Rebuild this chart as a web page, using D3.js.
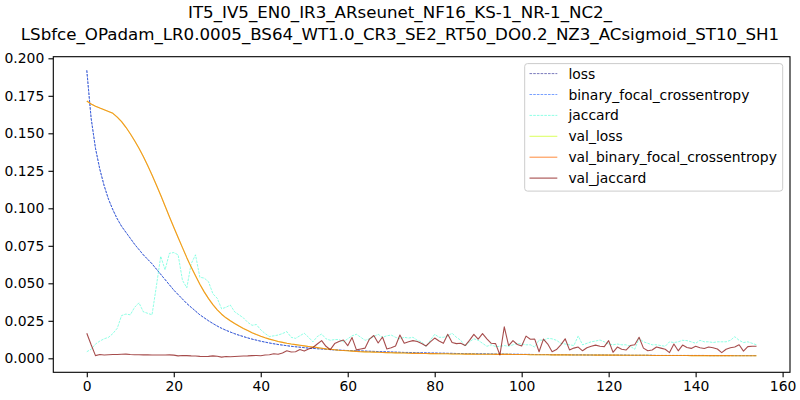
<!DOCTYPE html>
<html><head><meta charset="utf-8">
<script src="https://cdn.jsdelivr.net/npm/d3@7"></script>
<style>body{margin:0;background:#fff}svg{display:block}text{font-family:"DejaVu Sans",sans-serif}</style>
</head><body>
<svg id="c" width="800" height="400"></svg>
<script>
const titleLines = ["IT5_IV5_EN0_IR3_ARseunet_NF16_KS-1_NR-1_NC2_",
  "LSbfce_OPadam_LR0.0005_BS64_WT1.0_CR3_SE2_RT50_DO0.2_NZ3_ACsigmoid_ST10_SH1"];
const seriesNames = ["loss","binary_focal_crossentropy","jaccard","val_loss","val_binary_focal_crossentropy","val_jaccard"];
const xTicks = [0,20,40,60,80,100,120,140,160];
const yTicks = [0,0.025,0.05,0.075,0.1,0.125,0.15,0.175,0.2];

const loss = [0.192,0.160,0.140,0.126,0.115,0.106,0.099,0.093,0.088,0.084,
0.080,0.076,0.0725,0.069,0.066,0.063,0.0595,0.056,0.0525,0.049,
0.0455,0.0425,0.0395,0.0365,0.034,0.0315,0.029,0.027,0.025,0.0232,
0.0215,0.020,0.0187,0.0175,0.0164,0.0154,0.0145,0.0136,0.0128,0.0121,
0.0114,0.0108,0.0102,0.0097,0.0092,0.0088,0.0084,0.0080,0.0077,0.0074,
0.0071,0.0068,0.0066,0.0064,0.0062,0.0060,0.0058,0.0056,0.0055,0.0053,
0.0052,0.0051,0.0050,0.0049,0.0048,0.0047,0.0046,0.0045,0.0044,0.0043,
0.0042,0.0041,0.0040,0.0039,0.0039,0.0038,0.0037,0.0037,0.0036,0.0035,
0.0035,0.0034,0.0034,0.0033,0.0033,0.0032,0.0032,0.0031,0.0031,0.0030,
0.0030,0.0030,0.0029,0.0029,0.0028,0.0028,0.0028,0.0027,0.0027,0.0027,
0.0026,0.0026,0.0026,0.0025,0.0025,0.0025,0.0025,0.0024,0.0024,0.0024,
0.0024,0.0023,0.0023,0.0023,0.0023,0.0022,0.0022,0.0022,0.0022,0.0022,
0.0021,0.0021,0.0021,0.0021,0.0021,0.0020,0.0020,0.0020,0.0020,0.0020,
0.0020,0.0019,0.0019,0.0019,0.0019,0.0019,0.0019,0.0019,0.0019,0.0019,
0.0019,0.0019,0.0019,0.0018,0.0018,0.0018,0.0018,0.0018,0.0018,0.0018,
0.0018,0.0018,0.0018,0.0018,0.0018];

const bfce = [0.192,0.160,0.140,0.126,0.115,0.106,0.099,0.093,0.088,0.084,
0.080,0.076,0.0725,0.069,0.066,0.063,0.0595,0.056,0.0525,0.049,
0.0455,0.0425,0.0395,0.0365,0.034,0.0315,0.029,0.027,0.025,0.0232,
0.0215,0.020,0.0187,0.0175,0.0164,0.0154,0.0145,0.0136,0.0128,0.0121,
0.0114,0.0108,0.0102,0.0097,0.0092,0.0088,0.0084,0.0080,0.0077,0.0074,
0.0071,0.0068,0.0066,0.0064,0.0062,0.0060,0.0058,0.0056,0.0055,0.0053,
0.0052,0.0051,0.0050,0.0049,0.0048,0.0047,0.0046,0.0045,0.0044,0.0043,
0.0042,0.0041,0.0040,0.0039,0.0039,0.0038,0.0037,0.0037,0.0036,0.0035,
0.0035,0.0034,0.0034,0.0033,0.0033,0.0032,0.0032,0.0031,0.0031,0.0030,
0.0030,0.0030,0.0029,0.0029,0.0028,0.0028,0.0028,0.0027,0.0027,0.0027,
0.0026,0.0026,0.0026,0.0025,0.0025,0.0025,0.0025,0.0024,0.0024,0.0024,
0.0024,0.0023,0.0023,0.0023,0.0023,0.0022,0.0022,0.0022,0.0022,0.0022,
0.0021,0.0021,0.0021,0.0021,0.0021,0.0020,0.0020,0.0020,0.0020,0.0020,
0.0020,0.0019,0.0019,0.0019,0.0019,0.0019,0.0019,0.0019,0.0019,0.0019,
0.0019,0.0019,0.0019,0.0018,0.0018,0.0018,0.0018,0.0018,0.0018,0.0018,
0.0018,0.0018,0.0018,0.0018,0.0018];

const jaccard = [0.0044,0.0060,0.0095,0.0115,0.0130,0.0140,0.0165,0.0200,0.0285,0.0295,
0.0290,0.0340,0.0370,0.0310,0.0300,0.0290,0.0480,0.0680,0.0590,0.0700,
0.0705,0.0690,0.0520,0.0470,0.0630,0.0690,0.0540,0.0535,0.0510,0.0430,
0.0400,0.0330,0.0340,0.0355,0.0310,0.0290,0.0270,0.0240,0.0220,0.0225,
0.0190,0.0165,0.0145,0.0150,0.0155,0.0165,0.0178,0.0140,0.0133,0.0150,
0.0167,0.0140,0.0110,0.0145,0.0162,0.0130,0.0120,0.0125,0.0125,0.0110,
0.0130,0.0150,0.0160,0.0140,0.0120,0.0130,0.0145,0.0160,0.0140,0.0150,
0.0155,0.0140,0.0130,0.0140,0.0135,0.0140,0.0120,0.0110,0.0078,0.0120,
0.0160,0.0140,0.0140,0.0150,0.0167,0.0140,0.0120,0.0080,0.0110,0.0130,
0.0120,0.0100,0.0080,0.0090,0.0078,0.0080,0.0085,0.0080,0.0090,0.0100,
0.0095,0.0090,0.0090,0.0075,0.0122,0.0120,0.0133,0.0130,0.0120,0.0100,
0.0095,0.0090,0.0085,0.0149,0.0090,0.0100,0.0110,0.0115,0.0122,0.0110,
0.0095,0.0090,0.0095,0.0090,0.0090,0.0080,0.0060,0.0133,0.0110,0.0100,
0.0090,0.0090,0.0085,0.0080,0.0110,0.0105,0.0110,0.0120,0.0118,0.0110,
0.0100,0.0120,0.0110,0.0110,0.0105,0.0110,0.0110,0.0110,0.0120,0.0144,
0.0120,0.0105,0.0110,0.0100,0.0090];

const valLoss = [0.1715,0.1695,0.1680,0.1668,0.1657,0.1646,0.1633,0.1608,0.1578,0.1540,
0.1497,0.1450,0.1400,0.1345,0.1285,0.1222,0.1155,0.1087,0.1015,0.0944,
0.0874,0.0805,0.0738,0.0671,0.0608,0.0550,0.0494,0.0443,0.0398,0.0358,
0.0323,0.0294,0.0270,0.0250,0.0232,0.0215,0.0199,0.0185,0.0170,0.0158,
0.0147,0.0137,0.0128,0.0120,0.0112,0.0106,0.0100,0.0095,0.0091,0.0087,
0.0083,0.0079,0.0075,0.0071,0.0067,0.0063,0.0060,0.0057,0.0054,0.0052,
0.0050,0.0048,0.0046,0.0044,0.0043,0.0042,0.0041,0.0040,0.0039,0.0038,
0.0037,0.0036,0.0035,0.0035,0.0034,0.0033,0.0033,0.0032,0.0032,0.0031,
0.0031,0.0030,0.0030,0.0030,0.0029,0.0029,0.0029,0.0028,0.0028,0.0028,
0.0027,0.0027,0.0027,0.0027,0.0026,0.0026,0.0026,0.0026,0.0025,0.0025,
0.0025,0.0025,0.0024,0.0024,0.0024,0.0024,0.0024,0.0023,0.0023,0.0023,
0.0023,0.0023,0.0022,0.0022,0.0022,0.0022,0.0022,0.0021,0.0021,0.0021,
0.0021,0.0021,0.0021,0.0020,0.0020,0.0020,0.0020,0.0020,0.0020,0.0020,
0.0019,0.0019,0.0019,0.0019,0.0019,0.0019,0.0019,0.0019,0.0019,0.0018,
0.0018,0.0018,0.0018,0.0018,0.0018,0.0018,0.0018,0.0018,0.0018,0.0017,
0.0017,0.0017,0.0017,0.0017,0.0017];

const valBfce = [0.1715,0.1695,0.1680,0.1668,0.1657,0.1646,0.1633,0.1608,0.1578,0.1540,
0.1497,0.1450,0.1400,0.1345,0.1285,0.1222,0.1155,0.1087,0.1015,0.0944,
0.0874,0.0805,0.0738,0.0671,0.0608,0.0550,0.0494,0.0443,0.0398,0.0358,
0.0323,0.0294,0.0270,0.0250,0.0232,0.0215,0.0199,0.0185,0.0170,0.0158,
0.0147,0.0137,0.0128,0.0120,0.0112,0.0106,0.0100,0.0095,0.0091,0.0087,
0.0083,0.0079,0.0075,0.0071,0.0067,0.0063,0.0060,0.0057,0.0054,0.0052,
0.0050,0.0048,0.0046,0.0044,0.0043,0.0042,0.0041,0.0040,0.0039,0.0038,
0.0037,0.0036,0.0035,0.0035,0.0034,0.0033,0.0033,0.0032,0.0032,0.0031,
0.0031,0.0030,0.0030,0.0030,0.0029,0.0029,0.0029,0.0028,0.0028,0.0028,
0.0027,0.0027,0.0027,0.0027,0.0026,0.0026,0.0026,0.0026,0.0025,0.0025,
0.0025,0.0025,0.0024,0.0024,0.0024,0.0024,0.0024,0.0023,0.0023,0.0023,
0.0023,0.0023,0.0022,0.0022,0.0022,0.0022,0.0022,0.0021,0.0021,0.0021,
0.0021,0.0021,0.0021,0.0020,0.0020,0.0020,0.0020,0.0020,0.0020,0.0020,
0.0019,0.0019,0.0019,0.0019,0.0019,0.0019,0.0019,0.0019,0.0019,0.0018,
0.0018,0.0018,0.0018,0.0018,0.0018,0.0018,0.0018,0.0018,0.0018,0.0017,
0.0017,0.0017,0.0017,0.0017,0.0017];

const valJaccard = [0.0167,0.0090,0.0018,0.0025,0.0022,0.0024,0.0025,0.0025,0.0027,0.0028,
0.0025,0.0024,0.0024,0.0023,0.0023,0.0022,0.0022,0.0022,0.0022,0.0023,
0.0021,0.0016,0.0019,0.0018,0.0016,0.0015,0.0013,0.0012,0.0013,0.0016,
0.0014,0.0008,0.0012,0.0010,0.0012,0.0014,0.0015,0.0016,0.0018,0.0019,
0.0017,0.0022,0.0024,0.0030,0.0027,0.0036,0.0050,0.0042,0.0044,0.0058,
0.0048,0.0062,0.0072,0.0095,0.0118,0.0080,0.0058,0.0098,0.0112,0.0122,
0.0084,0.0138,0.0056,0.0062,0.0068,0.0128,0.0152,0.0102,0.0142,0.0062,
0.0070,0.0082,0.0155,0.0100,0.0110,0.0118,0.0112,0.0098,0.0082,0.0110,
0.0135,0.0115,0.0100,0.0160,0.0105,0.0098,0.0100,0.0085,0.0120,0.0160,
0.0128,0.0165,0.0130,0.0100,0.0098,0.0022,0.0210,0.0085,0.0118,0.0092,
0.0082,0.0148,0.0127,0.0128,0.0044,0.0128,0.0095,0.0044,0.0058,0.0090,
0.0130,0.0056,0.0068,0.0075,0.0050,0.0070,0.0080,0.0088,0.0080,0.0078,
0.0118,0.0040,0.0075,0.0060,0.0055,0.0085,0.0090,0.0140,0.0068,0.0050,
0.0055,0.0075,0.0068,0.0060,0.0038,0.0095,0.0050,0.0088,0.0072,0.0066,
0.0080,0.0070,0.0065,0.0075,0.0070,0.0062,0.0038,0.0060,0.0070,0.0075,
0.0090,0.0048,0.0078,0.0080,0.0080];

const seriesValues = [loss, bfce, jaccard, valLoss, valBfce, valJaccard];
const colors = ["#000080","#004dff","#29ffce","#ceff29","#ff6800","#800000"];
const dashed = [true,true,true,false,false,false];

const svg = d3.select("#c");
svg.append("rect").attr("width",800).attr("height",400).attr("fill","#fff");

const L = 53.3, R = 790, T = 56.7, B = 372.3;
const x = d3.scaleLinear().domain([-7.7, 161.7]).range([L, R]);
const y = d3.scaleLinear().domain([-0.00933, 0.20107]).range([B, T]);

// title
svg.append("text").attr("x",400).attr("y",18).attr("text-anchor","middle")
  .attr("font-size","16.67px").text(titleLines[0]);
svg.append("text").attr("x",400).attr("y",39.5).attr("text-anchor","middle")
  .attr("font-size","16.67px").text(titleLines[1]);

const clip = svg.append("defs").append("clipPath").attr("id","cl")
  .append("rect").attr("x",L).attr("y",T).attr("width",R-L).attr("height",B-T);

const g = svg.append("g").attr("clip-path","url(#cl)");
const line = d3.line().x((d,i)=>x(i)).y(d=>y(d));
seriesValues.forEach((vals,k)=>{
  g.append("path").datum(vals).attr("d",line).attr("fill","none")
    .attr("stroke",colors[k]).attr("stroke-opacity",0.7)
    .attr("stroke-width", dashed[k]?0.75:1.1)
    .attr("stroke-dasharray", dashed[k]?"2.6,1.1":null)
    .attr("stroke-linejoin","round");
});

// axes
const xAxis = d3.axisBottom(x).tickValues(xTicks).tickSize(4.86).tickPadding(4.2).tickFormat(d3.format("d"));
const yAxis = d3.axisLeft(y).tickValues(yTicks).tickSize(4.86).tickPadding(4.2).tickFormat(d3.format(".3f"));
const gx = svg.append("g").attr("transform",`translate(0,${B})`).call(xAxis);
const gy = svg.append("g").attr("transform",`translate(${L},0)`).call(yAxis);
[gx,gy].forEach(a=>{
  a.select(".domain").remove();
  a.selectAll(".tick line").attr("stroke","#000").attr("stroke-width",1.1);
  a.selectAll(".tick text").attr("font-size","13.9px").attr("fill","#000").attr("font-family","DejaVu Sans");
});
svg.append("rect").attr("x",L).attr("y",T).attr("width",R-L).attr("height",B-T)
  .attr("fill","none").attr("stroke","#000").attr("stroke-width",1.1);

// legend
const lg = svg.append("g");
lg.append("rect").attr("x",524.7).attr("y",63.6).attr("width",258).attr("height",127.5)
  .attr("rx",2.8).attr("fill","#fff").attr("fill-opacity",0.8).attr("stroke","#cccccc").attr("stroke-width",1);
seriesNames.forEach((n,k)=>{
  const yy = 73.6 + k*20.9;
  lg.append("line").attr("x1",529.5).attr("x2",557.3).attr("y1",yy).attr("y2",yy)
    .attr("stroke",colors[k]).attr("stroke-opacity",0.7)
    .attr("stroke-width", dashed[k]?0.75:1.1)
    .attr("stroke-dasharray", dashed[k]?"2.6,1.1":null);
  lg.append("text").attr("x",568.4).attr("y",yy+5).attr("font-size","13.9px").text(n);
});
</script>
</body></html>
